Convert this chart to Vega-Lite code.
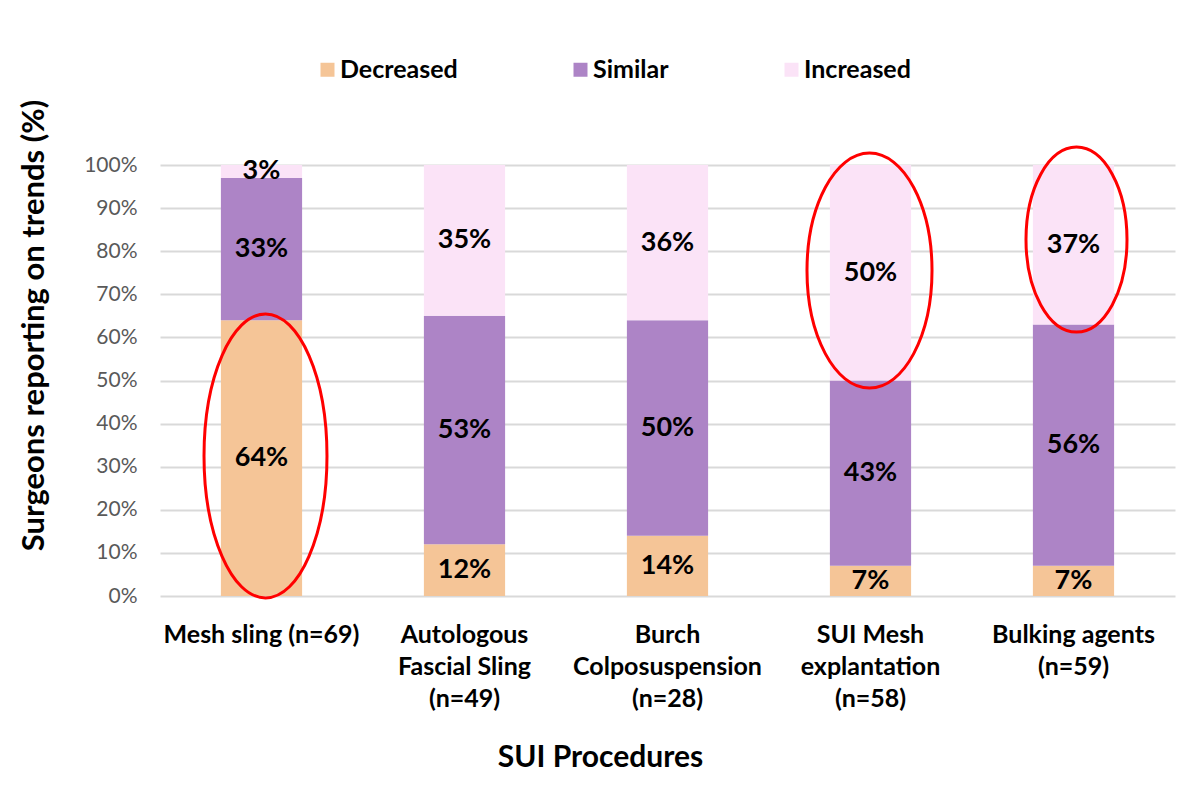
{
  "$schema": "https://vega.github.io/schema/vega-lite/v6.json",
  "autosize": "none",
  "width": 1015,
  "height": 431,
  "padding": {"left": 160, "top": 165, "right": 29, "bottom": 200},
  "background": "white",
  "config": {
    "font": "Lato",
    "view": {"stroke": null}
  },
  "datasets": {
    "bars": [
      {"proc": "Mesh sling (n=69)", "trend": "Decreased", "pct": 64},
      {"proc": "Mesh sling (n=69)", "trend": "Similar", "pct": 33},
      {"proc": "Mesh sling (n=69)", "trend": "Increased", "pct": 3},
      {"proc": "Autologous Fascial Sling (n=49)", "trend": "Decreased", "pct": 12},
      {"proc": "Autologous Fascial Sling (n=49)", "trend": "Similar", "pct": 53},
      {"proc": "Autologous Fascial Sling (n=49)", "trend": "Increased", "pct": 35},
      {"proc": "Burch Colposuspension (n=28)", "trend": "Decreased", "pct": 14},
      {"proc": "Burch Colposuspension (n=28)", "trend": "Similar", "pct": 50},
      {"proc": "Burch Colposuspension (n=28)", "trend": "Increased", "pct": 36},
      {"proc": "SUI Mesh explantation (n=58)", "trend": "Decreased", "pct": 7},
      {"proc": "SUI Mesh explantation (n=58)", "trend": "Similar", "pct": 43},
      {"proc": "SUI Mesh explantation (n=58)", "trend": "Increased", "pct": 50},
      {"proc": "Bulking agents (n=59)", "trend": "Decreased", "pct": 7},
      {"proc": "Bulking agents (n=59)", "trend": "Similar", "pct": 56},
      {"proc": "Bulking agents (n=59)", "trend": "Increased", "pct": 37}
    ],
    "circles": [
      {"proc": "Mesh sling (n=69)", "mid": 32.5},
      {"proc": "SUI Mesh explantation (n=58)", "mid": 75.5},
      {"proc": "Bulking agents (n=59)", "mid": 82.7}
    ]
  },
  "layer": [
    {
      "data": {"name": "bars"},
      "transform": [
        {"calculate": "indexof(['Decreased','Similar','Increased'], datum.trend)", "as": "k"},
        {"stack": "pct", "groupby": ["proc"], "sort": [{"field": "k", "order": "ascending"}], "as": ["p0", "p1"]}
      ],
      "mark": {"type": "bar"},
      "encoding": {
        "x": {
          "field": "proc", "type": "nominal",
          "scale": {"domain": ["Mesh sling (n=69)", "Autologous Fascial Sling (n=49)", "Burch Colposuspension (n=28)", "SUI Mesh explantation (n=58)", "Bulking agents (n=59)"], "paddingInner": 0.6, "paddingOuter": 0.3},
          "axis": {
            "title": "SUI Procedures",
            "titleFont": "Lato", "titleFontSize": 30, "titleFontWeight": "bold", "titleColor": "#000000",
            "titleX": 440, "titleY": 170, "titleBaseline": "alphabetic", "titleAlign": "center", "titleAnchor": null,
            "labelAngle": 0, "labelFont": "Lato", "labelFontSize": 25, "labelFontWeight": "bold", "labelColor": "#000000",
            "labelLineHeight": 32, "labelBaseline": "alphabetic", "labelPadding": 46,
            "labelExpr": "datum.value == 'Autologous Fascial Sling (n=49)' ? ['Autologous', 'Fascial Sling', '(n=49)'] : datum.value == 'Burch Colposuspension (n=28)' ? ['Burch', 'Colposuspension', '(n=28)'] : datum.value == 'SUI Mesh explantation (n=58)' ? ['SUI Mesh', 'explantation', '(n=58)'] : datum.value == 'Bulking agents (n=59)' ? ['Bulking agents', '(n=59)'] : datum.label",
            "ticks": false, "domain": false, "labelLimit": 400
          }
        },
        "y": {
          "field": "p0", "type": "quantitative",
          "scale": {"domain": [0, 100], "nice": false},
          "axis": {
            "title": "Surgeons reporting on trends (%)",
            "titleFont": "Lato", "titleFontSize": 31, "titleFontWeight": "bold", "titleColor": "#000000",
            "titleX": -126, "titleY": 160, "titleBaseline": "middle", "titleAlign": "center", "titleAngle": -90,
            "values": [0, 10, 20, 30, 40, 50, 60, 70, 80, 90, 100],
            "labelExpr": "datum.value + '%'",
            "labelFont": "Lato", "labelFontSize": 21, "labelColor": "#595959", "labelPadding": 23,
            "ticks": false, "domain": false,
            "grid": true, "gridColor": "#d9d9d9", "gridWidth": 2
          }
        },
        "y2": {"field": "p1"},
        "color": {
          "field": "trend", "type": "nominal",
          "scale": {"domain": ["Decreased", "Similar", "Increased"], "range": ["#F5C597", "#AD84C6", "#FBE3F7"]},
          "legend": {
            "title": null, "orient": "none", "direction": "horizontal",
            "legendX": 155, "legendY": -108,
            "symbolType": "square", "symbolSize": 196, "symbolStrokeWidth": 0,
            "labelFont": "Lato", "labelFontSize": 25, "labelFontWeight": "bold", "labelColor": "#000000",
            "labelOffset": 0, "columnPadding": 110, "padding": 0, "labelLimit": 300
          }
        }
      }
    },
    {
      "data": {"name": "bars"},
      "transform": [
        {"calculate": "indexof(['Decreased','Similar','Increased'], datum.trend)", "as": "k"},
        {"stack": "pct", "groupby": ["proc"], "sort": [{"field": "k", "order": "ascending"}], "as": ["p0", "p1"]},
        {"calculate": "(datum.p0 + datum.p1) / 2", "as": "pm"},
        {"calculate": "datum.pct + '%'", "as": "lbl"}
      ],
      "mark": {"type": "text", "font": "Lato", "fontSize": 27, "fontWeight": "bold", "color": "#000000", "baseline": "middle", "align": "center"},
      "encoding": {
        "x": {"field": "proc", "type": "nominal"},
        "y": {"field": "pm", "type": "quantitative"},
        "text": {"field": "lbl", "type": "nominal"}
      }
    },
    {
      "data": {"name": "circles"},
      "transform": [{"filter": "datum.proc == 'Mesh sling (n=69)'"}],
      "mark": {"type": "point", "shape": "M0,-1C0.239,-1,0.433,-0.552,0.433,0C0.433,0.552,0.239,1,0,1C-0.239,1,-0.433,0.552,-0.433,0C-0.433,-0.552,-0.239,-1,0,-1Z", "size": 80656, "filled": false, "stroke": "#FF0000", "strokeWidth": 3, "opacity": 1, "xOffset": 4},
      "encoding": {
        "x": {"field": "proc", "type": "nominal"},
        "y": {"field": "mid", "type": "quantitative"}
      }
    },
    {
      "data": {"name": "circles"},
      "transform": [{"filter": "datum.proc == 'SUI Mesh explantation (n=58)'"}],
      "mark": {"type": "point", "shape": "M0,-1C0.294,-1,0.532,-0.552,0.532,0C0.532,0.552,0.294,1,0,1C-0.294,1,-0.532,0.552,-0.532,0C-0.532,-0.552,-0.294,-1,0,-1Z", "size": 55225, "filled": false, "stroke": "#FF0000", "strokeWidth": 3, "opacity": 1, "xOffset": -1},
      "encoding": {
        "x": {"field": "proc", "type": "nominal"},
        "y": {"field": "mid", "type": "quantitative"}
      }
    },
    {
      "data": {"name": "circles"},
      "transform": [{"filter": "datum.proc == 'Bulking agents (n=59)'"}],
      "mark": {"type": "point", "shape": "M0,-1C0.302,-1,0.546,-0.552,0.546,0C0.546,0.552,0.302,1,0,1C-0.302,1,-0.546,0.552,-0.546,0C-0.546,-0.552,-0.302,-1,0,-1Z", "size": 34225, "filled": false, "stroke": "#FF0000", "strokeWidth": 3, "opacity": 1, "xOffset": 3},
      "encoding": {
        "x": {"field": "proc", "type": "nominal"},
        "y": {"field": "mid", "type": "quantitative"}
      }
    }
  ]
}
